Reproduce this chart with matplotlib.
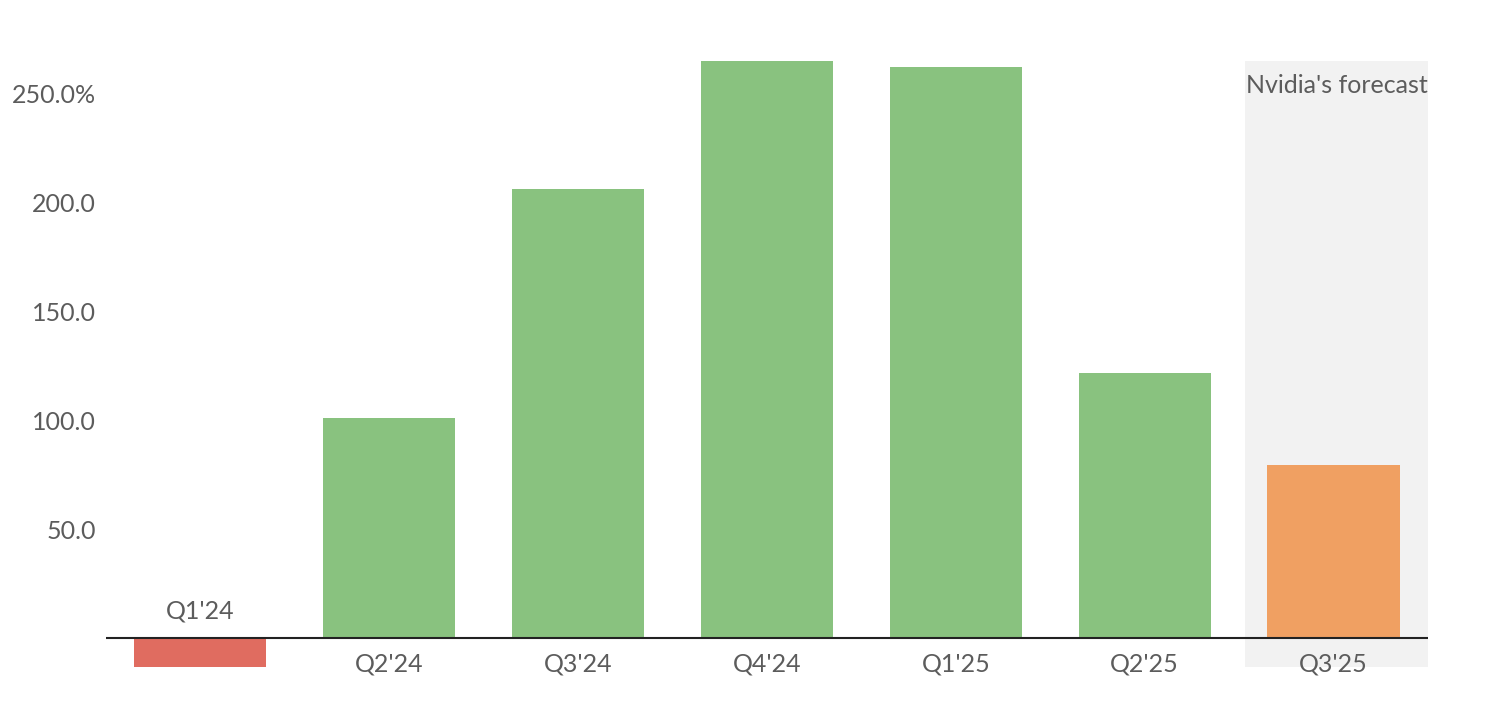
import numpy as np
import matplotlib.pyplot as plt

quarters = ["Q1'24", "Q2'24", "Q3'24", "Q4'24", "Q1'25", "Q2'25", "Q3'25"]
growth = [-13, 101, 206, 265, 262, 122, 79.4]
bar_colors = ['#e06c60', '#89c27f', '#89c27f', '#89c27f', '#89c27f', '#89c27f', '#f0a062']
yticks = [50, 100, 150, 200, 250]
ytick_labels = ['50.0', '100.0', '150.0', '200.0', '250.0%']

plt.rcParams['font.family'] = ['Lato', 'DejaVu Sans']
txt = '#5c5c5c'
fs = 18

fig = plt.figure(figsize=(14.92, 7.08), dpi=100)
ax = fig.add_axes([0.0710, 0.0582, 0.8861, 0.8559])

x = np.arange(len(quarters))
ax.axvspan(5.53, 6.5, color='#f2f2f2', zorder=0, lw=0)
ax.bar(x, growth, width=0.7, color=bar_colors, zorder=2)
ax.axhline(0, color='#222222', lw=1.5, zorder=3)

ax.set_xlim(-0.5, 6.5)
ax.set_ylim(-13, 265)
ax.set_yticks(yticks)
ax.set_yticklabels(ytick_labels, fontsize=fs, color=txt)
ax.tick_params(axis='y', length=0, pad=7)
ax.set_xticks([])
for s in ax.spines.values():
    s.set_visible(False)

for i, (q, v) in enumerate(zip(quarters, growth)):
    dy = 27 if v < 0 else -26
    ax.annotate(q, (i, 0), xytext=(0, dy), textcoords='offset pixels',
                ha='center', va='center', fontsize=fs, color=txt)

ax.text(6.5, 253.5, "Nvidia's forecast", ha='right', va='center', fontsize=fs,
        color=txt)

fig.savefig('out.png', dpi=100)
